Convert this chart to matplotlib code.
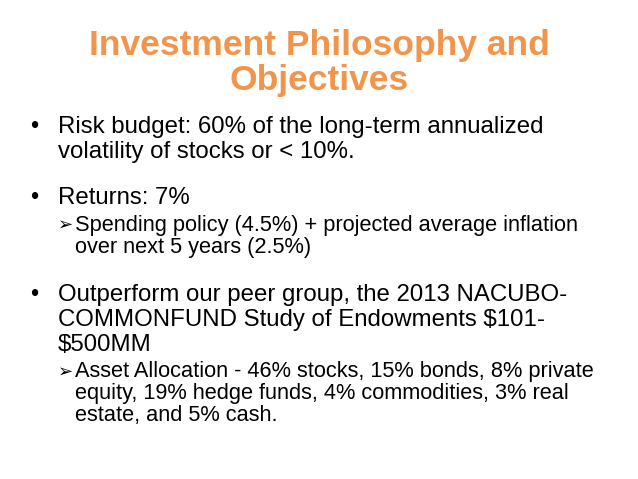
import matplotlib
matplotlib.use('Agg')
import matplotlib.pyplot as plt

TITLE = ['Investment Philosophy and', 'Objectives']
TITLE_Y = [45, 80]

# (level, y, text, has_marker)
LINES = [
    (1, 127, 'Risk budget: 60% of the long-term annualized', True),
    (1, 152, 'volatility of stocks or < 10%.', False),
    (1, 198, 'Returns: 7%', True),
    (2, 225, 'Spending policy (4.5%) + projected average inflation', True),
    (2, 248, 'over next 5 years (2.5%)', False),
    (1, 295, 'Outperform our peer group, the 2013 NACUBO-', True),
    (1, 320, 'COMMONFUND Study of Endowments $101-', False),
    (1, 345, '$500MM', False),
    (2, 372, 'Asset Allocation - 46% stocks, 15% bonds, 8% private', True),
    (2, 394, 'equity, 19% hedge funds, 4% commodities, 3% real', False),
    (2, 416, 'estate, and 5% cash.', False),
]

plt.rcParams['font.family'] = ['Liberation Sans', 'DejaVu Sans']
fig = plt.figure(figsize=(6.38, 4.79), dpi=100)
ax = fig.add_axes([0, 0, 1, 1])
ax.set_xlim(0, 638); ax.set_ylim(479, 0); ax.axis('off')

for t, y in zip(TITLE, TITLE_Y):
    ax.text(319, y, t, ha='center', va='center', fontsize=25.5, fontweight='bold',
            color='#F0954B', parse_math=False)

for lvl, y, t, mark in LINES:
    if lvl == 1:
        if mark:
            ax.text(30, y, '•', ha='left', va='center', fontsize=17, parse_math=False)
        ax.text(58, y, t, ha='left', va='center', fontsize=17.3, parse_math=False)
    else:
        if mark:
            ax.text(58, y, '➢', ha='left', va='center', fontsize=13,
                    family='DejaVu Sans', parse_math=False)
        ax.text(75, y, t, ha='left', va='center', fontsize=15.7, parse_math=False)

fig.savefig('out.png', dpi=100)
